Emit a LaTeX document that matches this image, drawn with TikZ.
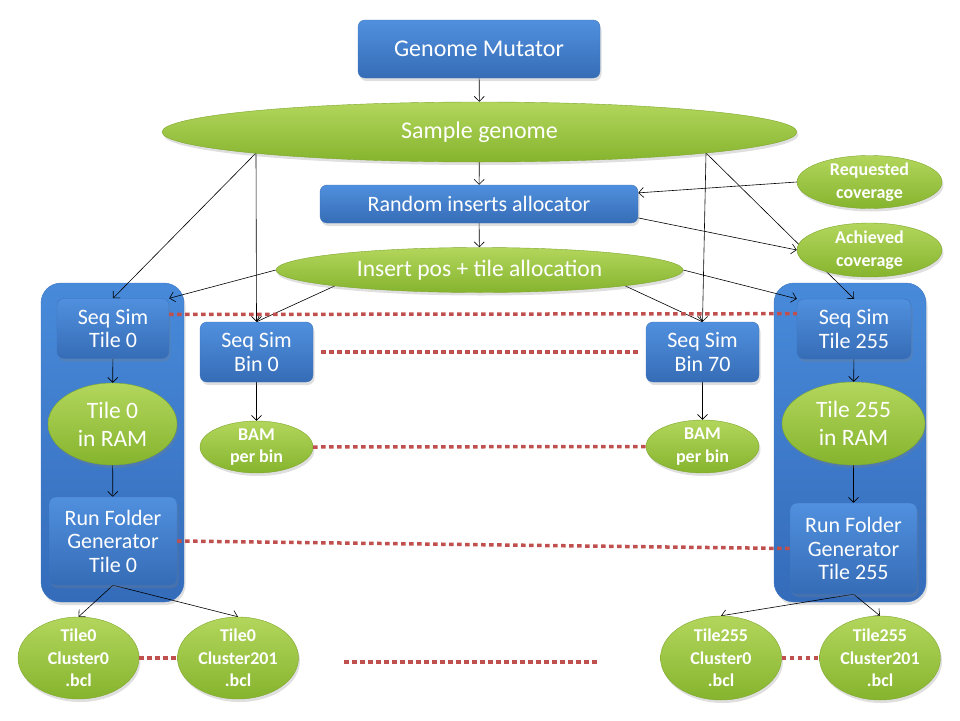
\documentclass[tikz,border=0pt]{standalone}
\usepackage{fontspec}
\setmainfont{Carlito}
\usepackage{tikz}
\usetikzlibrary{arrows.meta,shapes.geometric,shadows,calc}
\pgfdeclarelayer{bg}
\pgfdeclarelayer{links}
\pgfsetlayers{bg,links,main}
\tikzset{
  >={Straight Barb[length=5pt,width=10pt]},
  every picture/.append style={line width=0.6pt},
}

\begin{document}
\begin{tikzpicture}[
    x=1pt, y=-1pt,
    block/.style={
        rectangle,
        draw=boxedge,
        rounded corners=7pt,
        top color=boxtop,
        bottom color=boxbot,
        text=white,
        align=center,
        inner sep=0pt,
        drop shadow={shadow xshift=1.5pt, shadow yshift=-3pt, opacity=0.25}
    },
    blob/.style={
        ellipse,
        draw=blobedge,
        top color=blobtop,
        bottom color=blobbot,
        text=white,
        align=center,
        inner sep=-5pt,
        drop shadow={shadow xshift=1.5pt, shadow yshift=-3pt, opacity=0.25}
    },
    lane/.style={
        rectangle,
        draw=laneedge,
        rounded corners=20pt,
        top color=lanetop,
        bottom color=lanebot,
        inner sep=0pt,
        drop shadow={shadow xshift=1.5pt, shadow yshift=-3pt, opacity=0.25}
    },
    arrow/.style={->, line width=0.6pt, draw=black},
    dotline/.style={draw=dotred, line width=3.5pt, dash pattern=on 4.5pt off 3.5pt},
    fbig/.style={font=\fontsize{24}{28}\selectfont},
    fram/.style={font=\fontsize{23.5}{28}\selectfont},
    fbox/.style={font=\fontsize{22}{23.5}\selectfont},
    fsmall/.style={font=\fontsize{18}{22.5}\selectfont\bfseries}
]
% Color definitions
\definecolor{boxtop}{RGB}{80,144,222}
\definecolor{boxbot}{RGB}{54,108,182}
\definecolor{boxedge}{RGB}{62,116,190}
\definecolor{lanetop}{RGB}{72,138,218}
\definecolor{lanebot}{RGB}{52,108,186}
\definecolor{laneedge}{RGB}{60,118,196}
\definecolor{blobtop}{RGB}{178,214,92}
\definecolor{blobbot}{RGB}{134,180,46}
\definecolor{blobedge}{RGB}{126,166,44}
\definecolor{dotred}{RGB}{192,80,77}

\useasboundingbox (0,0) rectangle (960,720);

% Tile containers
\begin{pgfonlayer}{bg}
\node[lane, minimum width=143, minimum height=319] (lane0) at (112.5,442.5) {};
\node[lane, minimum width=152, minimum height=319] (lane255) at (850,442.5) {};
\end{pgfonlayer}

% Top of the pipeline
\node[block, fbig, minimum width=242, minimum height=58] (gm) at (479,49) {Genome Mutator};
\node[blob, fbig, minimum width=635, minimum height=60] (sg) at (479.5,132) {Sample genome};
\node[block, fbox, minimum width=318, minimum height=38] (ria) at (479,204) {Random inserts allocator};
\node[blob, fram, minimum width=407, minimum height=45] (ip) at (479.5,270) {Insert pos + tile allocation};
\node[blob, fsmall, minimum width=145, minimum height=53] (rc) at (869.5,182) {Requested\\coverage};
\node[blob, fsmall, minimum width=145, minimum height=54] (ac) at (869.5,250) {Achieved\\coverage};

% Tile 0 lane
\node[block, fbox, minimum width=112, minimum height=60] (tile0) at (113,328.5) {Seq Sim\\Tile 0};
\node[blob, fram, minimum width=129, minimum height=82] (ram0) at (112.5,424) {Tile 0\\in RAM};
\node[block, fbox, minimum width=128, minimum height=88] (rfg0) at (113,541) {Run Folder\\Generator\\Tile 0};

% Bins
\node[block, fbox, minimum width=113, minimum height=60] (bin0) at (256.5,352) {Seq Sim\\Bin 0};
\node[blob, fsmall, minimum width=113, minimum height=52] (bam0) at (256.5,447) {BAM\\per bin};
\node[block, fbox, minimum width=113, minimum height=60] (bin70) at (702.5,352) {Seq Sim\\Bin 70};
\node[blob, fsmall, minimum width=113, minimum height=53] (bam70) at (702.5,446.5) {BAM\\per bin};

% Tile 255 lane
\node[block, fbox, minimum width=114, minimum height=60] (tile255) at (854,329) {Seq Sim\\Tile 255};
\node[blob, fram, minimum width=143, minimum height=83] (ram255) at (853.5,423.5) {Tile 255\\in RAM};
\node[block, fbox, minimum width=127, minimum height=91] (rfg255) at (853.5,548.5) {Run Folder\\Generator\\Tile 255};

% Cluster files
\node[blob, fsmall, minimum width=121, minimum height=82] (c00) at (78.5,658) {Tile0\\Cluster0\\.bcl};
\node[blob, fsmall, minimum width=121, minimum height=82] (c01) at (238,658) {Tile0\\Cluster201\\.bcl};
\node[blob, fsmall, minimum width=121, minimum height=84] (c250) at (721,658) {Tile255\\Cluster0\\.bcl};
\node[blob, fsmall, minimum width=121, minimum height=84] (c251) at (880,658) {Tile255\\Cluster201\\.bcl};

% Flow arrows
\begin{pgfonlayer}{links}
\draw[arrow] (gm) -- (sg);
\draw[arrow] (sg) -- (ria);
\draw[arrow] (ria) -- (ip);
\draw[arrow] ($(sg.center)+(-223.5,21)$) -- (tile0.north);
\draw[arrow] ($(sg.center)+(-223.5,21)$) -- (bin0.north);
\draw[arrow] ($(sg.center)+(226.5,21)$) -- (bin70.north);
\draw[arrow] ($(sg.center)+(226.5,21)$) -- (tile255.north);
\draw[arrow] (rc.west) -- (ria.4);
\draw[arrow] (ria.355.3) -- (ac.west);
\draw[arrow] (ip.west) -- (tile0.north east);
\draw[arrow] ($(ip.center)+(-144.5,15.8)$) -- (bin0.north);
\draw[arrow] ($(ip.center)+(145.5,15.8)$) -- (bin70.north);
\draw[arrow] (ip.east) -- (tile255.north west);
\draw[arrow] (tile0) -- (ram0);
\draw[arrow] (ram0) -- (rfg0);
\draw[arrow] (bin0) -- (bam0);
\draw[arrow] (bin70) -- (bam70);
\draw[arrow] (tile255) -- (ram255);
\draw[arrow] (ram255) -- (rfg255);
\draw[arrow] (rfg0.south) -- (c00.north);
\draw[arrow] (rfg0.south) -- (c01.north);
\draw[arrow] (rfg255.south) -- (c250.north);
\draw[arrow] (rfg255.south) -- (c251.north);
\end{pgfonlayer}

% Dotted continuations
\coordinate (gapL) at (344,662);
\coordinate (gapR) at (600,662);
\draw[dotline] (tile0.14.5) -- (tile255.165.5);
\draw[dotline, shorten <=8pt, shorten >=8pt] (bin0.east) -- (bin70.west);
\draw[dotline] (bam0.east) -- (bam70.west);
\draw[dotline] (rfg0.east) -- (rfg255.west);
\draw[dotline] (c00.east) -- (c01.west);
\draw[dotline] (c250.east) -- (c251.west);
\draw[dotline] (gapL) -- (gapR);
\end{tikzpicture}
\end{document}
